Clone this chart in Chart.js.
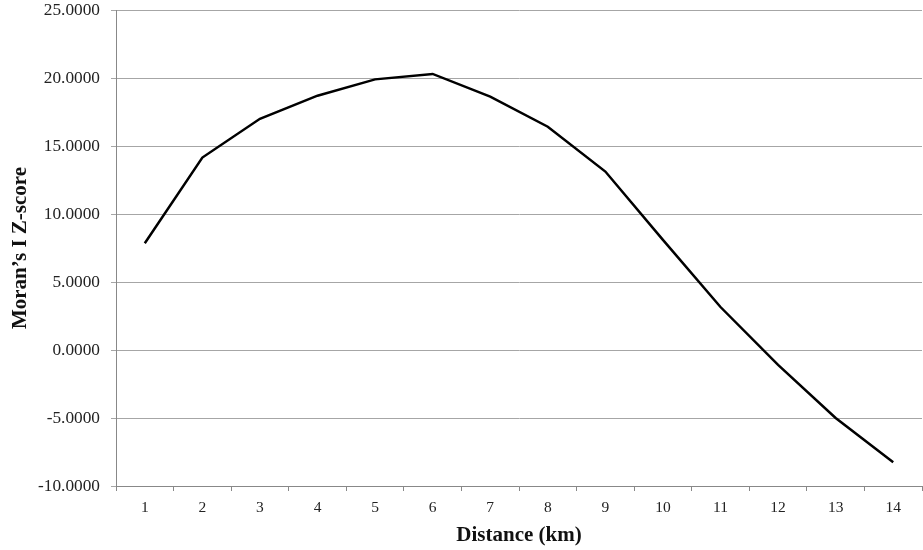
<!DOCTYPE html>
<html>
<head>
<meta charset="utf-8">
<script src="https://cdn.jsdelivr.net/npm/chart.js@4"></script>
<style>
  html, body { margin: 0; padding: 0; background: #fff; }
  #wrap { width: 923px; height: 550px; position: relative; }
</style>
</head>
<body>
<div id="wrap"><canvas id="c"></canvas></div>
<script>
const distances = ['1','2','3','4','5','6','7','8','9','10','11','12','13','14'];
const zScores = [7.85, 14.15, 17.0, 18.7, 19.9, 20.3, 18.63, 16.42, 13.12, 8.1, 3.16, -1.1, -5.0, -8.25];
const yTickMin = -10;
const yTickMax = 25;
const yTickStep = 5;
const xTitle = 'Distance (km)';
const yTitle = 'Moran\u2019s I Z-score';

const serif = "'Liberation Serif', 'DejaVu Serif', serif";

new Chart(document.getElementById('c'), {
  type: 'line',
  data: {
    labels: distances,
    datasets: [{
      data: zScores,
      borderColor: '#000',
      borderWidth: 2.5,
      pointRadius: 0,
      tension: 0,
      fill: false
    }]
  },
  options: {
    responsive: true,
    maintainAspectRatio: false,
    animation: false,
    layout: { padding: { top: 10, right: 1, left: 0, bottom: 0 } },
    plugins: { legend: { display: false }, tooltip: { enabled: false } },
    scales: {
      x: {
        offset: true,
        grid: { offset: true, drawOnChartArea: false, drawTicks: true, tickLength: 5, color: '#888' },
        border: { color: '#888', width: 1 },
        ticks: { color: '#222', font: { family: serif, size: 15.5 }, padding: 8, maxRotation: 0 },
        title: { display: true, text: xTitle, color: '#111', font: { family: serif, size: 21, weight: 'bold' }, padding: { top: 0, bottom: 2 } },
        afterFit: (s) => { s.height = 64; s.paddingLeft = 0; s.paddingRight = 0; }
      },
      y: {
        min: yTickMin,
        max: yTickMax,
        ticks: { stepSize: yTickStep, color: '#222', font: { family: serif, size: 17.3 }, padding: 11,
                 callback: (v) => Number(v).toFixed(4) },
        grid: { color: '#a6a6a6', tickLength: 5, lineWidth: 1 },
        border: { color: '#888', width: 1 },
        title: { display: true, text: yTitle, color: '#111', font: { family: serif, size: 21, weight: 'bold' }, padding: { top: 8, bottom: 0 } },
        afterFit: (s) => { s.width = 116; s.paddingTop = 0; s.paddingBottom = 0; }
      }
    }
  }
});
</script>
</body>
</html>
